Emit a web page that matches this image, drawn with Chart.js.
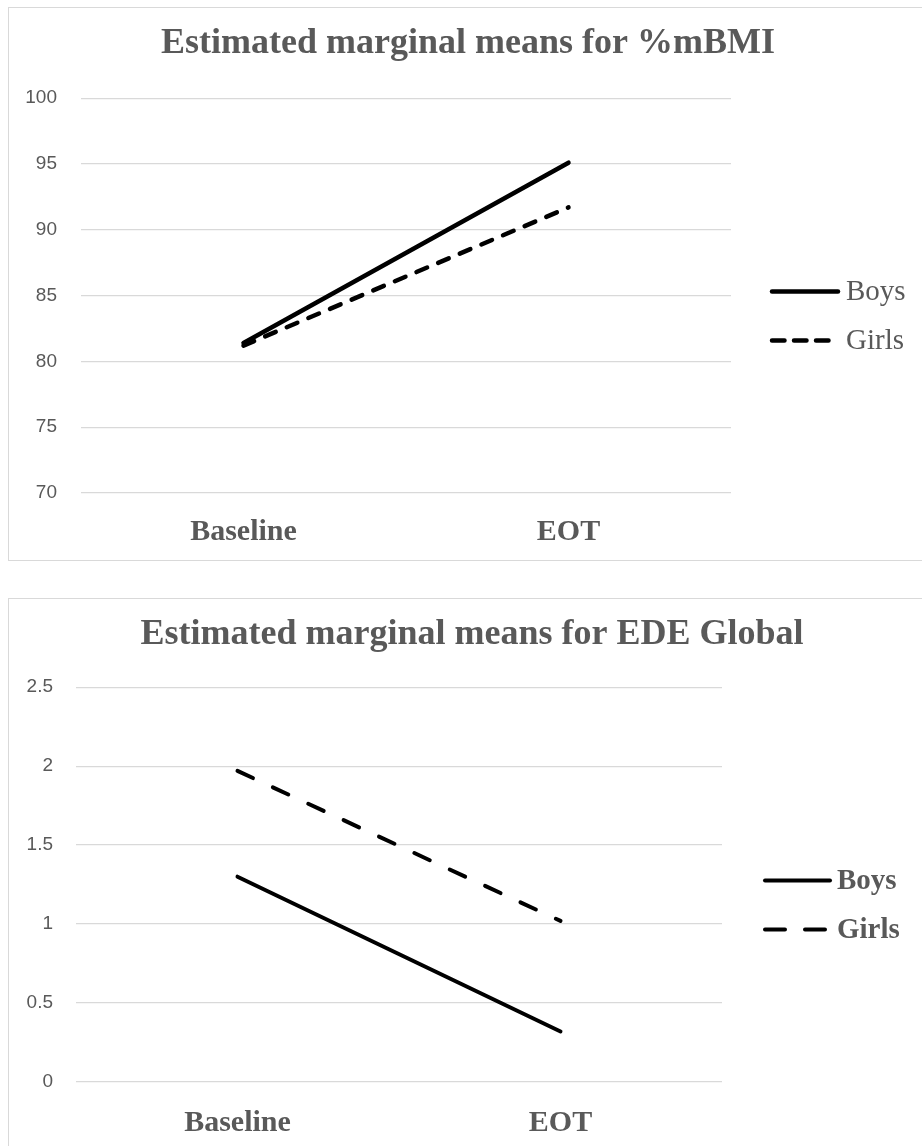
<!DOCTYPE html>
<html>
<head>
<meta charset="utf-8">
<script src="https://cdn.jsdelivr.net/npm/chart.js@4.4.1/dist/chart.umd.min.js"></script>
<style>
  body { margin: 0; background: #fff; overflow: hidden; width: 922px; height: 1146px; position: relative; }
  .box { position: absolute; left: 8px; border: 1px solid #d9d9d9; background: #fff; }
  #box1 { top: 7px; }
  #box2 { top: 598px; }
  canvas { display: block; }
</style>
</head>
<body>
<div class="box" id="box1"><canvas id="bmiChart" width="918" height="552"></canvas></div>
<div class="box" id="box2"><canvas id="edeChart" width="926" height="552"></canvas></div>
<script>
const categories = ['Baseline', 'EOT'];
const bmiBoys = [81.4, 95.1];
const bmiGirls = [81.2, 91.7];
const bmiTicks = [70, 75, 80, 85, 90, 95, 100];
const edeBoys = [1.3, 0.32];
const edeGirls = [1.97, 1.02];
const edeTicks = [0, 0.5, 1, 1.5, 2, 2.5];

const GREY = '#595959';
const SERIF = "'Liberation Serif', 'Times New Roman', serif";

// legend drawn by hand so the line samples can be long and dashed like Excel's
const lineLegend = {
    id: 'lineLegend',
    afterDraw(chart, args, opts) {
        const ctx = chart.ctx;
        const a = chart.chartArea;
        const mid = (a.top + a.bottom) / 2;
        chart.data.datasets.forEach((ds, i) => {
            const y = mid + opts.offsets[i];
            ctx.save();
            ctx.strokeStyle = ds.borderColor;
            ctx.lineWidth = ds.borderWidth;
            ctx.lineCap = 'round';
            ctx.setLineDash(opts.dashes[i]);
            ctx.beginPath();
            ctx.moveTo(a.right + opts.lineStart, y);
            ctx.lineTo(a.right + opts.lineStart + opts.lineLen, y);
            ctx.stroke();
            ctx.setLineDash([]);
            ctx.fillStyle = GREY;
            ctx.font = opts.font;
            ctx.textBaseline = 'middle';
            ctx.fillText(ds.label, a.right + opts.textStart, y + 1);
            ctx.restore();
        });
    }
};

function makeChart(id, cfg) {
    return new Chart(document.getElementById(id), {
        type: 'line',
        data: {
            labels: categories,
            datasets: [
                { label: 'Boys', data: cfg.boys, borderColor: '#000', borderWidth: cfg.lw, borderCapStyle: 'round', pointRadius: 0, fill: false },
                { label: 'Girls', data: cfg.girls, borderColor: '#000', borderWidth: cfg.lw, borderCapStyle: 'round', borderDash: cfg.dash, pointRadius: 0, fill: false }
            ]
        },
        options: {
            responsive: false,
            animation: false,
            devicePixelRatio: 1,
            layout: { padding: 0 },
            plugins: {
                legend: { display: false },
                tooltip: { enabled: false },
                title: {
                    display: true,
                    text: cfg.title,
                    color: GREY,
                    font: { family: SERIF, size: 36, weight: 'bold' },
                    padding: cfg.titlePad
                },
                lineLegend: {
                    offsets: [-4, 45],
                    lineStart: cfg.legStart,
                    lineLen: cfg.legLen,
                    textStart: 115,
                    dashes: [[], cfg.legDash],
                    font: cfg.legFont
                }
            },
            scales: {
                x: {
                    offset: true,
                    afterFit: (axis) => { axis.height = cfg.xHeight; },
                    grid: { display: false, drawTicks: false },
                    border: { display: false },
                    ticks: { color: GREY, padding: cfg.xPad, font: { family: SERIF, size: 30, weight: 'bold' } }
                },
                y: {
                    min: cfg.ticks[0],
                    max: cfg.ticks[cfg.ticks.length - 1],
                    afterBuildTicks: (axis) => { axis.ticks = cfg.ticks.map(v => ({ value: v })); },
                    afterFit: (axis) => { axis.width = cfg.yWidth; },
                    grid: { color: '#d9d9d9', lineWidth: 1.3, drawTicks: false },
                    border: { display: false },
                    ticks: {
                        color: GREY,
                        padding: cfg.yPad,
                        font: { family: "'Liberation Sans', Arial, sans-serif", size: 19 },
                        callback: (v) => String(v)
                    }
                },
                // empty right-hand axis: keeps room for the legend without shifting the title
                legendRoom: {
                    type: 'linear',
                    position: 'right',
                    afterFit: (axis) => { axis.width = cfg.padRight; },
                    grid: { display: false, drawTicks: false },
                    border: { display: false },
                    ticks: { display: false }
                }
            }
        },
        plugins: [lineLegend]
    });
}

makeChart('bmiChart', {
    title: 'Estimated marginal means for %mBMI',
    boys: bmiBoys, girls: bmiGirls, ticks: bmiTicks,
    lw: 4.5, dash: [11.5, 12],
    padRight: 196, yWidth: 72, yPad: 24, xPad: 21, xHeight: 67,
    titlePad: { top: 14, bottom: 33 },
    legStart: 41, legLen: 66, legDash: [12.5, 9.5],
    legFont: "29px 'Liberation Serif', serif"
});

makeChart('edeChart', {
    title: 'Estimated marginal means for EDE Global',
    boys: edeBoys, girls: edeGirls, ticks: edeTicks,
    lw: 4, dash: [17, 22],
    padRight: 213, yWidth: 67, yPad: 23, xPad: 23, xHeight: 69,
    titlePad: { top: 14, bottom: 31 },
    legStart: 43, legLen: 65, legDash: [20, 20],
    legFont: "bold 29px 'Liberation Serif', serif"
});
</script>
</body>
</html>
